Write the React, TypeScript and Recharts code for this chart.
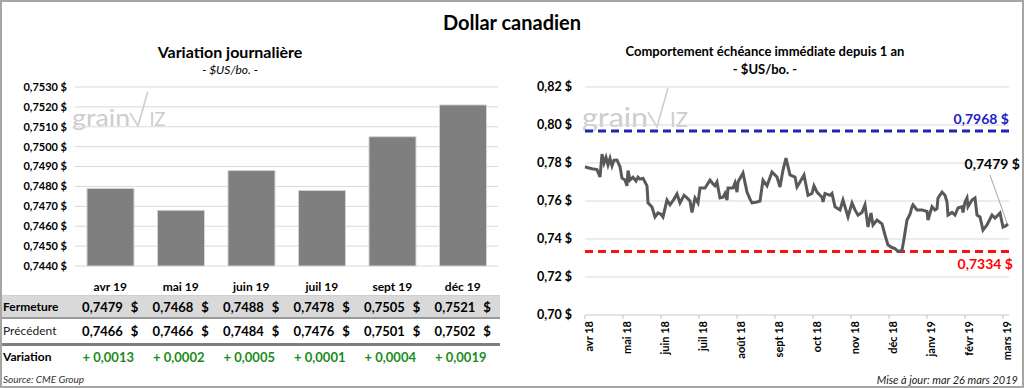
import React from 'react';
import {
  BarChart, Bar, XAxis, YAxis, CartesianGrid, LineChart, Line, ReferenceLine, ReferenceDot,
} from 'recharts';

const FONT = 'Lato, "Open Sans", sans-serif';

// ---- Left panel data ----
const contracts = ['avr 19', 'mai 19', 'juin 19', 'juil 19', 'sept 19', 'déc 19'];
const closing = [0.7479, 0.7468, 0.7488, 0.7478, 0.7505, 0.7521];
const previous = [0.7466, 0.7466, 0.7484, 0.7476, 0.7501, 0.7502];
const change = [0.0013, 0.0002, 0.0005, 0.0001, 0.0004, 0.0019];
const barTicks = [0.744, 0.745, 0.746, 0.747, 0.748, 0.749, 0.75, 0.751, 0.752, 0.753];

// ---- Right panel data ----
const monthLabels = ['avr 18', 'mai 18', 'juin 18', 'juil 18', 'août 18', 'sept 18', 'oct 18', 'nov 18', 'déc 18', 'janv 19', 'févr 19', 'mars 19'];
const monthTicks = [0, 30.4, 60.8, 91.2, 121.6, 152, 182.4, 212.8, 243.2, 273.6, 304, 334.4];
const lineTicks = [0.7, 0.72, 0.74, 0.76, 0.78, 0.8, 0.82];
const yearHigh = 0.7968;
const yearLow = 0.7334;
const lastValue = 0.7479;
const lineDays = [
  0, 2.4, 5.6, 9.6, 12, 13.6, 15.2, 16.8, 18.4, 20, 21.6, 23.2, 25.6, 28, 29.6, 32, 33.6, 34.4, 36, 38.4,
  40.8, 42.4, 44, 46.4, 49.6, 50.4, 53.6, 56, 58.4, 60.8, 62.4, 65.6, 68, 71.2, 73.6, 76, 79.2, 81.6, 84, 85.6,
  88, 90.4, 92, 96, 100, 102.4, 104, 105.6, 108, 110.4, 112, 113.6, 114.4, 118.4, 120, 121.6, 122.4, 126.4, 129.6, 132,
  133.6, 137.6, 140, 142.4, 145.6, 149.6, 153.6, 156, 158.4, 160.8, 164, 168, 169.6, 172, 175.2, 178.4, 181.6, 183.2, 185.6, 189.6,
  190.4, 192, 196, 197.6, 200, 204, 206.4, 210.4, 213.6, 216, 218.4, 221.6, 224, 226.4, 228.8, 230.4, 233.6, 237.6, 240, 242.4,
  245.6, 248, 250.4, 253.6, 255.2, 257.6, 260, 261.6, 262.4, 265.6, 269.6, 273.6, 274.4, 277.6, 280, 281.6, 282.4, 285.6, 288, 289.6,
  290.4, 293.6, 296, 298.4, 301.6, 302.4, 304, 305.6, 306.4, 309.6, 312, 313.6, 316, 318.4, 321.6, 325.6, 328, 332, 334.4, 336.8, 338.4,
];
const lineValues = [
  0.778, 0.7775, 0.777, 0.7765, 0.7726, 0.7847, 0.78, 0.783, 0.779, 0.7825, 0.7785, 0.7815, 0.7816, 0.778, 0.772, 0.771, 0.768, 0.776, 0.771, 0.7725,
  0.7705, 0.7725, 0.7715, 0.772, 0.768, 0.759, 0.7568, 0.7516, 0.7537, 0.753, 0.7516, 0.7605, 0.758, 0.761, 0.7637, 0.759, 0.763, 0.7616, 0.76, 0.754,
  0.7616, 0.759, 0.7668, 0.7668, 0.771, 0.769, 0.768, 0.77, 0.7616, 0.762, 0.764, 0.7605, 0.7668, 0.7668, 0.7695, 0.7647, 0.77, 0.7747, 0.7647, 0.761,
  0.759, 0.7595, 0.76, 0.771, 0.768, 0.7753, 0.7726, 0.7674, 0.7763, 0.7826, 0.7737, 0.7726, 0.7674, 0.77, 0.7737, 0.763, 0.764, 0.768, 0.7647, 0.762,
  0.7595, 0.764, 0.763, 0.764, 0.757, 0.7553, 0.7605, 0.7516, 0.759, 0.7553, 0.7526, 0.754, 0.758, 0.7463, 0.7537, 0.7474, 0.75, 0.748, 0.7421, 0.7368,
  0.7355, 0.735, 0.7334, 0.734, 0.74, 0.75, 0.753, 0.757, 0.758, 0.7553, 0.7553, 0.7545, 0.75, 0.757, 0.7553, 0.756, 0.7616, 0.7647, 0.763, 0.7595,
  0.7526, 0.754, 0.7526, 0.7563, 0.757, 0.754, 0.7595, 0.7616, 0.757, 0.7605, 0.7616, 0.7526, 0.7516, 0.7447, 0.7474, 0.7526, 0.751, 0.7537, 0.7463, 0.747, 0.7479,
];

const barData = contracts.map((c, i) => ({ name: c, close: closing[i] }));
const lineData = lineDays.map((d, i) => ({ t: d, v: lineValues[i] }));

const fmt4 = (v: number) => v.toFixed(4).replace('.', ',');
const fmt2 = (v: number) => v.toFixed(2).replace('.', ',');

type TProps = { x: number; y: number; anchor?: 'start' | 'middle' | 'end'; style?: React.CSSProperties; children: React.ReactNode };
const T = ({ x, y, anchor = 'middle', style, children }: TProps) => {
  const tx = anchor === 'middle' ? '-50%' : anchor === 'end' ? '-100%' : '0';
  return (
    <div
      style={{
        position: 'absolute', left: x, top: y, transform: `translate(${tx}, -50%)`, whiteSpace: 'nowrap',
        fontFamily: FONT, lineHeight: 1, color: '#000', ...style,
      }}
    >
      {children}
    </div>
  );
};

const Watermark = ({ x, y, s }: { x: number; y: number; s: number }) => (
  <svg style={{ position: 'absolute', left: 0, top: 0 }} width={1024} height={388}>
    <g fill="#cdcdcd" stroke="none">
      <text x={x} y={y} fontFamily={FONT} fontSize={27 * s} textLength={66 * s} lengthAdjust="spacingAndGlyphs">grain</text>
      <text x={x + 88 * s} y={y} fontFamily={FONT} fontSize={21 * s} textLength={18 * s} lengthAdjust="spacingAndGlyphs">IZ</text>
    </g>
    <path
      d={`M ${x + 66 * s} ${y - 15 * s} L ${x + 75 * s} ${y} L ${x + 86 * s} ${y - 39 * s}`}
      fill="none" stroke="#cdcdcd" strokeWidth={1.6}
    />
  </svg>
);

const colCenter = (i: number) => 75 + (i + 0.5) * 70.5;

export default function App() {
  return (
    <div style={{ position: 'fixed', left: 0, top: 0, width: 1024, height: 388, background: '#fff', overflow: 'hidden', fontFamily: FONT }}>
      {/* Titles */}
      <T x={512} y={22} style={{ fontSize: 20, fontWeight: 700 }}>Dollar canadien</T>
      <T x={230} y={52} style={{ fontSize: 16, fontWeight: 700 }}>Variation journalière</T>
      <T x={230} y={70} style={{ fontSize: 12, fontStyle: 'italic' }}>- $US/bo. -</T>
      <T x={765} y={51} style={{ fontSize: 13, fontWeight: 700 }}>Comportement échéance immédiate depuis 1 an</T>
      <T x={765} y={69} style={{ fontSize: 13, fontWeight: 700 }}>- $US/bo. -</T>

      <Watermark x={72} y={126} s={0.88} />
      <Watermark x={582} y={127} s={1} />

      {/* Left bar chart */}
      <div style={{ position: 'absolute', left: 0, top: 0 }}>
        <BarChart width={515} height={300} data={barData} margin={{ top: 87, right: 17, bottom: 10, left: 0 }} barCategoryGap="17%">
          <CartesianGrid vertical={false} stroke="#d9d9d9" />
          <YAxis
            width={75} domain={[0.744, 0.753]} ticks={barTicks} interval={0} axisLine={false} tickLine={false}
            tickFormatter={(v: number) => `${fmt4(v)} $`}
            tick={{ fontSize: 11, fontWeight: 700, fill: '#000', fontFamily: FONT }}
          />
          <XAxis
            dataKey="name" height={24} axisLine={false} tickLine={false} tickMargin={10} interval={0}
            tick={{ fontSize: 12, fontWeight: 700, fill: '#000', fontFamily: FONT }}
          />
          <Bar dataKey="close" fill="#7f7f7f" stroke="#d4d4d4" strokeWidth={1} isAnimationActive={false} />
        </BarChart>
      </div>

      {/* Table */}
      <div style={{ position: 'absolute', left: 0, top: 295, width: 500, height: 1, background: '#d0d0d0' }} />
      <div style={{ position: 'absolute', left: 0, top: 296, width: 500, height: 21, background: '#d9d9d9' }} />
      <div style={{ position: 'absolute', left: 0, top: 317, width: 500, height: 2, background: '#9a9a9a' }} />
      <div style={{ position: 'absolute', left: 0, top: 343, width: 500, height: 3, background: '#7f7f7f' }} />
      <T x={3} y={307} anchor="start" style={{ fontSize: 12, fontWeight: 700 }}>Fermeture</T>
      <T x={3} y={331} anchor="start" style={{ fontSize: 12, color: '#222' }}>Précédent</T>
      <T x={3} y={357} anchor="start" style={{ fontSize: 12, fontWeight: 700 }}>Variation</T>
      {closing.map((v, i) => (
        <T key={`c${i}`} x={colCenter(i)} y={307} style={{ fontSize: 13, fontWeight: 700 }}>
          {fmt4(v)}<span style={{ marginLeft: 8 }}>$</span>
        </T>
      ))}
      {previous.map((v, i) => (
        <T key={`p${i}`} x={colCenter(i)} y={331} style={{ fontSize: 13, fontWeight: 700 }}>
          {fmt4(v)}<span style={{ marginLeft: 8 }}>$</span>
        </T>
      ))}
      {change.map((v, i) => (
        <T key={`d${i}`} x={colCenter(i) - 2} y={357} style={{ fontSize: 13, fontWeight: 700, color: '#1a8c1a' }}>
          + {fmt4(v)}
        </T>
      ))}
      <T x={3} y={379} anchor="start" style={{ fontSize: 10, fontStyle: 'italic', color: '#333' }}>Source: CME Group</T>

      {/* Right line chart */}
      <div style={{ position: 'absolute', left: 515, top: 0 }}>
        <LineChart width={509} height={388} data={lineData} margin={{ top: 87, right: 15, bottom: 13, left: 0 }}>
          <CartesianGrid vertical={false} stroke="#d9d9d9" />
          <YAxis
            width={70} domain={[0.7, 0.82]} ticks={lineTicks} interval={0} axisLine={false} tickLine={false} tickMargin={7}
            tickFormatter={(v: number) => `${fmt2(v)} $`}
            tick={{ fontSize: 12.5, fontWeight: 700, fill: '#000', fontFamily: FONT }}
          />
          <XAxis
            dataKey="t" type="number" domain={[0, 339.2]} ticks={monthTicks} interval={0} height={60}
            axisLine={{ stroke: '#d9d9d9' }} tickLine={{ stroke: '#bfbfbf' }} tickSize={4} tickMargin={2} angle={-90}
            tickFormatter={(_v: number, i: number) => monthLabels[i]}
            tick={{ fontSize: 11, fontWeight: 700, fill: '#000', fontFamily: FONT, textAnchor: 'end' }}
          />
          <ReferenceLine
            y={yearHigh} stroke="#2222b4" strokeWidth={3} strokeDasharray="8 5"
            label={(p: any) => (
              <text x={p.viewBox.x + p.viewBox.width} y={p.viewBox.y - 7} textAnchor="end" fill="#2020c8" fontSize={14} fontWeight={700} fontFamily={FONT}>
                {`${fmt4(yearHigh)}  $`}
              </text>
            )}
          />
          <ReferenceLine
            y={yearLow} stroke="#ff1010" strokeWidth={3} strokeDasharray="8 5"
            label={(p: any) => (
              <text x={p.viewBox.x + p.viewBox.width + 4} y={p.viewBox.y + 17} textAnchor="end" fill="#ff0000" fontSize={14} fontWeight={700} fontFamily={FONT}>
                {`${fmt4(yearLow)}  $`}
              </text>
            )}
          />
          <ReferenceLine segment={[{ x: 324, y: 0.7737 }, { x: 337.6, y: 0.7484 }]} stroke="#a6a6a6" strokeWidth={1} />
          <ReferenceDot
            x={324} y={0.7737} r={1} fill="none" stroke="none"
            label={(p: any) => (
              <text x={p.viewBox.x + 31} y={p.viewBox.y - 5} textAnchor="end" fill="#000" fontSize={14} fontWeight={700} fontFamily={FONT}>
                {`${fmt4(lastValue)} $`}
              </text>
            )}
          />
          <Line type="linear" dataKey="v" stroke="#595959" strokeWidth={3} dot={false} isAnimationActive={false} />
        </LineChart>
      </div>

      <T x={1018} y={379} anchor="end" style={{ fontSize: 11, fontStyle: 'italic', color: '#222' }}>Mise à jour: mar 26 mars 2019</T>

      {/* Outer frame */}
      <div style={{ position: 'absolute', left: 0, top: 0, width: 1024, height: 388, boxSizing: 'border-box', border: '2px solid #a6a6a6', pointerEvents: 'none' }} />
    </div>
  );
}
